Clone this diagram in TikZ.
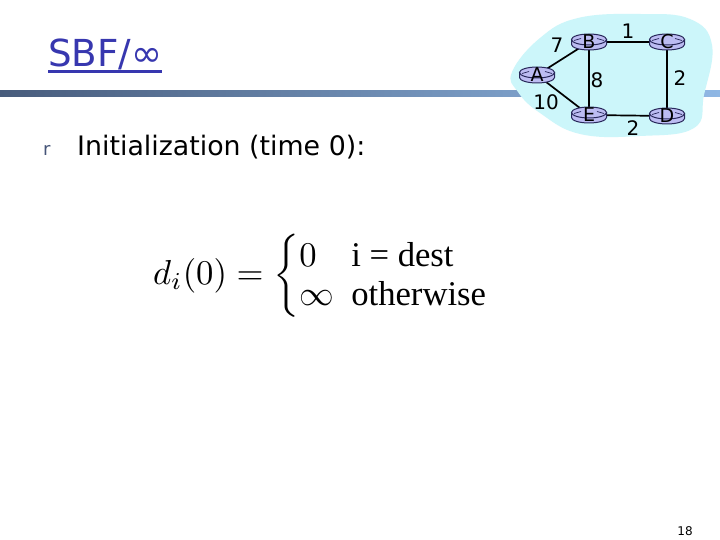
\documentclass[tikz,border=0pt]{standalone}
\usepackage[no-math]{fontspec}
\usepackage{amsmath}
\usepackage{graphicx}
\newfontfamily\comic{DejaVu Sans}
\newfontfamily\tms{Liberation Serif}
\definecolor{titleblue}{RGB}{55,55,175}
\definecolor{barL}{RGB}{72,92,124}
\definecolor{barR}{RGB}{143,183,228}
\definecolor{blobc}{RGB}{204,246,250}
\definecolor{rfill}{RGB}{188,188,242}
\definecolor{rline}{RGB}{40,40,90}
\definecolor{bulletc}{RGB}{70,85,120}
\pgfdeclarelayer{bg}
\pgfdeclarelayer{edges}
\pgfsetlayers{bg,edges,main}
\tikzset{
  pics/router/.style={code={
    \path[fill=rfill,draw=rline,line width=1pt] (-17.5,2.5) -- (-17.5,-2.5)
      arc[start angle=180,end angle=360,x radius=17.5,y radius=5.5] -- (17.5,2.5) -- cycle;
    \path[fill=rfill,draw=rline,line width=1pt] (0,2.5) ellipse[x radius=17.5,y radius=5.5];
    \draw[rline,line width=0.7pt] (-15,1.5) -- (-8,3.5);
    \draw[rline,line width=0.7pt] (15,1.5) -- (8,3.5);
  }},
  rlabel/.style={inner sep=0pt,font=\comic\fontsize{19}{19}\selectfont},
  elabel/.style={inner sep=0pt,font=\comic\fontsize{20}{20}\selectfont},
  link/.style={line width=1.7pt,black},
}
\begin{document}
\begin{tikzpicture}[x=1pt,y=1pt]
\useasboundingbox (0,0) rectangle (720,-540);
\begin{pgfonlayer}{bg}
\fill[white] (0,0) rectangle (720,-540);
\shade[left color=barL,right color=barR] (0,-91) rectangle (720,-97);
\fill[blobc] plot[smooth cycle,tension=0.7] coordinates {
  (512,-72) (540,-38) (578,-18) (640,-14) (690,-19) (712,-45)
  (704,-95) (694,-128) (640,-136) (580,-134) (540,-113) (518,-92)};
\end{pgfonlayer}
% routers
\pic at (537,-75) {router};
\pic at (589,-42) {router};
\pic at (667,-42) {router};
\pic at (589,-115) {router};
\pic at (667,-116) {router};
\node[rlabel] (A) at (537,-75) {A};
\node[rlabel] (B) at (589,-42) {B};
\node[rlabel] (C) at (667,-42) {C};
\node[rlabel] (E) at (589,-115) {E};
\node[rlabel] (D) at (667,-116) {D};
\begin{pgfonlayer}{edges}
\draw[link] (A.center) -- (B.center);
\draw[link] (A.center) -- (E.center);
\draw[link] (B.center) -- (E.center);
\draw[link] (B.center) -- (C.center);
\draw[link] (C.center) -- (D.center);
\draw[link] (E.center) -- (D.center);
\end{pgfonlayer}
\node[elabel] (l7) at (557,-45) {7};
\node[elabel] (l1) at (628,-31) {1};
\node[elabel] (l8) at (597,-80) {8};
\node[elabel] (l2a) at (680,-78) {2};
\node[elabel] (l10) at (546,-102) {10};
\node[elabel] (l2b) at (633,-128) {2};
% title
\node[anchor=base west,inner sep=0pt,text=titleblue] (title) at (48,-67)
  {\resizebox{114pt}{!}{\comic SBF/∞}};
\draw[titleblue,line width=2.6pt] ([yshift=-4.5pt]title.base west) -- ([yshift=-4.5pt]title.base east);
% bullet
\node[anchor=base west,inner sep=0pt,text=bulletc,font=\comic\fontsize{18}{18}\selectfont] (bul) at (43,-156) {r};
\node[anchor=base west,inner sep=0pt] (init) at (77,-156)
  {\resizebox{288pt}{!}{\comic Initialization (time 0):}};
% formula
\node[anchor=west,inner sep=0pt] (form) at (153,-276)
  {\resizebox{337pt}{!}{$d_i(0)=\begin{cases}0 & \hspace{-5pt}\text{\tms i = dest}\\[-3pt] \infty & \hspace{-5pt}\text{\tms otherwise}\end{cases}$}};
% page number
\node[anchor=base,inner sep=0pt,font=\comic\fontsize{12}{12}\selectfont] (pg) at (685,-535) {18};
\end{tikzpicture}
\end{document}
